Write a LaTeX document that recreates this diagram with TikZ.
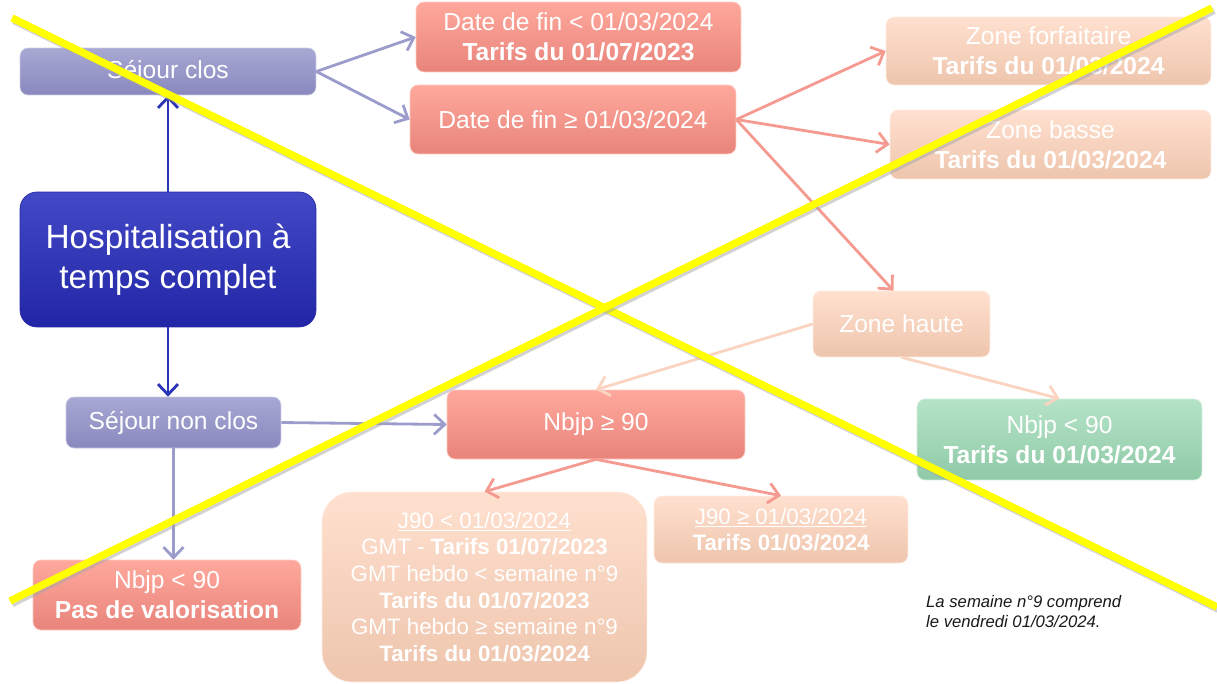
\documentclass[tikz,border=0pt]{standalone}
\usepackage{fontspec}
\setmainfont{Liberation Sans}
\usetikzlibrary{positioning,arrows.meta}
\definecolor{bleuH}{HTML}{4248C6}
\definecolor{bleuB}{HTML}{2226A6}
\definecolor{violetH}{HTML}{A8A8D4}
\definecolor{violetB}{HTML}{8888BE}
\definecolor{rougeH}{HTML}{FFA89C}
\definecolor{rougeB}{HTML}{E8847B}
\definecolor{pecheH}{HTML}{FFE0CF}
\definecolor{pecheB}{HTML}{EEC5AD}
\definecolor{vertH}{HTML}{B5E3C8}
\definecolor{vertB}{HTML}{8FCAA7}
\definecolor{flecheBleu}{HTML}{2A34B4}
\definecolor{flecheViolet}{HTML}{9C9CCC}
\definecolor{flecheRouge}{HTML}{F59A90}
\definecolor{flechePeche}{HTML}{FAD4C1}
\definecolor{jaune}{HTML}{FFFF00}
\tikzset{
	boite/.style={rounded corners=0.16cm, text=white, align=center, inner sep=0pt,
		font=\fontsize{14}{17}\selectfont},
	bleue/.style={boite, top color=bleuH, bottom color=bleuB, draw=bleuB, rounded corners=0.34cm,
		font=\fontsize{19}{23}\selectfont},
	violette/.style={boite, top color=violetH, bottom color=violetB, draw=violetH!60!white},
	rouge/.style={boite, top color=rougeH, bottom color=rougeB, draw=rougeH!60!white},
	peche/.style={boite, top color=pecheH, bottom color=pecheB, draw=pecheH!60!white},
	verte/.style={boite, top color=vertH, bottom color=vertB, draw=vertH!60!white},
	petit/.style={font=\fontsize{12.7}{15.2}\selectfont},
	fleche/.style={line width=1.6pt, -{Straight Barb[length=0.21cm,width=0.4cm]}},
}
\newcommand{\barre}[2]{\draw[line width=4.2pt, black!35, opacity=0.5, line cap=butt] ([xshift=0.04cm,yshift=-0.05cm]#1) -- ([xshift=0.04cm,yshift=-0.05cm]#2);
	\draw[line width=4.2pt, jaune] (#1) -- (#2);}

\begin{document}
\begin{tikzpicture}[x=0.02cm, y=-0.02cm]

	\useasboundingbox (0,0) rectangle (1217,683);

	\node[bleue, minimum width=5.92cm, minimum height=2.7cm] (hosp) at (168,259.5) {Hospitalisation à\\temps complet};
	\node[violette, minimum width=5.92cm, minimum height=0.94cm] (sclos) at (168,71.5) {Séjour clos};
	\node[violette, minimum width=4.3cm, minimum height=1.02cm] (snonclos) at (173.5,422.5) {Séjour non clos};
	\node[rouge, minimum width=5.36cm, minimum height=1.4cm] (pasval) at (167,595) {Nbjp < 90\\\textbf{Pas de valorisation}};

	\node[rouge, minimum width=6.5cm, minimum height=1.4cm] (datefinA) at (578.5,37) {Date de fin < 01/03/2024\\\textbf{Tarifs du 01/07/2023}};
	\node[rouge, minimum width=6.52cm, minimum height=1.38cm] (datefinB) at (573,119.5) {Date de fin ≥ 01/03/2024};

	\node[peche, minimum width=6.5cm, minimum height=1.36cm] (zforf) at (1048.5,51) {Zone forfaitaire\\\textbf{Tarifs du 01/03/2024}};
	\node[peche, minimum width=6.42cm, minimum height=1.38cm] (zbasse) at (1050.5,144.5) {Zone basse\\\textbf{Tarifs du 01/03/2024}};
	\node[peche, minimum width=3.54cm, minimum height=1.32cm] (zhaute) at (901.5,324) {Zone haute};

	\node[rouge, minimum width=5.96cm, minimum height=1.38cm] (nbjpsup) at (596,424.5) {Nbjp ≥ 90};
	\node[verte, minimum width=5.7cm, minimum height=1.62cm] (nbjpinf) at (1059.5,439.5) {Nbjp < 90\\\textbf{Tarifs du 01/03/2024}};

	\node[peche, petit, rounded corners=0.6cm, minimum width=6.5cm, minimum height=3.8cm] (jinf) at (484.5,587)
		{\underline{J90 < 01/03/2024}\\GMT - \textbf{Tarifs 01/07/2023}\\GMT hebdo < semaine n°9\\\textbf{Tarifs du 01/07/2023}\\GMT hebdo ≥ semaine n°9\\\textbf{Tarifs du 01/03/2024}};
	\node[peche, petit, minimum width=5.08cm, minimum height=1.34cm] (jsup) at (781,529.5) {\underline{J90 ≥ 01/03/2024}\\\textbf{Tarifs 01/03/2024}};

	\node[anchor=north west, align=left, text=black!90, font=\itshape\fontsize{9.5}{11.6}\selectfont] (remarque) at (920,589)
		{La semaine n°9 comprend\\le vendredi 01/03/2024.};

	\draw[fleche, flecheBleu] (hosp.north) -- (sclos.south);
	\draw[fleche, flecheBleu] (hosp.south) -- (hosp.south |- snonclos.north);

	\draw[fleche, flecheViolet] (sclos.east) -- (datefinA.west);
	\draw[fleche, flecheViolet] (sclos.east) -- (datefinB.west);
	\draw[fleche, flecheViolet] (snonclos.east) -- (nbjpsup.west);
	\draw[fleche, flecheViolet] (snonclos.south) -- (snonclos.south |- pasval.north);

	\draw[fleche, flecheRouge] (datefinB.east) -- (zforf.west);
	\draw[fleche, flecheRouge] (datefinB.east) -- (zbasse.west);
	\draw[fleche, flecheRouge] (datefinB.east) -- ([xshift=-0.16cm]zhaute.north);
	\draw[fleche, flecheRouge] (nbjpsup.south) -- (jinf.north);
	\draw[fleche, flecheRouge] (nbjpsup.south) -- (jsup.north);

	\draw[fleche, flechePeche] (zhaute.west) -- (nbjpsup.north);
	\draw[fleche, flechePeche] (zhaute.south) -- (nbjpinf.north);

	\coordinate (croixA) at (12,18);
	\coordinate (croixB) at (1217,607);
	\coordinate (croixC) at (10,601);
	\coordinate (croixD) at (1212,8);
	\barre{croixA}{croixB}
	\barre{croixC}{croixD}

\end{tikzpicture}
\end{document}
